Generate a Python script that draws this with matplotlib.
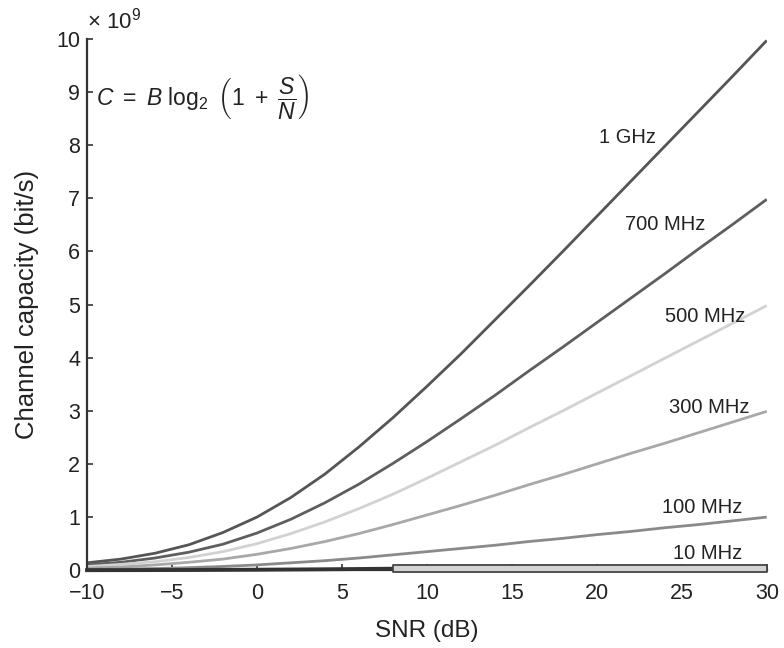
import numpy as np
import matplotlib
matplotlib.use("Agg")
import matplotlib.pyplot as plt

plt.rcParams['font.family'] = ['Liberation Sans', 'DejaVu Sans']
plt.rcParams['mathtext.fontset'] = 'custom'
plt.rcParams['mathtext.rm'] = 'Liberation Sans'
plt.rcParams['mathtext.it'] = 'Liberation Sans:italic'

# SNR in dB
snr = [-10, -8, -6, -4, -2, 0, 2, 4, 6, 8, 10, 12, 14, 16, 18, 20, 22, 24, 26, 28, 30]

# Channel capacity in units of 1e9 bit/s
cap_1ghz = [0.14, 0.21, 0.32, 0.48, 0.71, 1.00, 1.37, 1.81, 2.32, 2.87, 3.46,
            4.07, 4.71, 5.35, 6.00, 6.66, 7.32, 7.98, 8.64, 9.30, 9.97]
cap_700 = [0.10, 0.15, 0.23, 0.34, 0.49, 0.70, 0.96, 1.27, 1.62, 2.01, 2.42,
           2.85, 3.29, 3.75, 4.20, 4.66, 5.12, 5.58, 6.05, 6.51, 6.98]
cap_500 = [0.07, 0.11, 0.16, 0.24, 0.35, 0.50, 0.69, 0.91, 1.16, 1.43, 1.73,
           2.04, 2.35, 2.68, 3.00, 3.33, 3.66, 3.99, 4.32, 4.65, 4.98]
cap_300 = [0.04, 0.06, 0.10, 0.15, 0.21, 0.30, 0.41, 0.54, 0.69, 0.86, 1.04,
           1.22, 1.41, 1.61, 1.80, 2.00, 2.20, 2.39, 2.59, 2.79, 2.99]
cap_100 = [0.014, 0.021, 0.032, 0.048, 0.071, 0.10, 0.14, 0.18, 0.23, 0.29, 0.35,
           0.41, 0.47, 0.54, 0.60, 0.67, 0.73, 0.80, 0.86, 0.93, 1.00]
cap_10 = [0.0014, 0.0021, 0.0032, 0.0048, 0.0071, 0.010, 0.014, 0.018, 0.023, 0.029, 0.035,
          0.041, 0.047, 0.054, 0.060, 0.067, 0.073, 0.080, 0.086, 0.093, 0.100]

labels = ['1 GHz', '700 MHz', '500 MHz', '300 MHz', '100 MHz', '10 MHz']
label_pos = [(21.8, 8.14), (24.0, 6.5), (26.35, 4.78), (26.6, 3.07), (26.2, 1.19), (26.5, 0.32)]
colors = ['#555555', '#5e5e5e', '#d2d2d2', '#a8a8a8', '#8a8a8a', '#333333']

xticks = [-10, -5, 0, 5, 10, 15, 20, 25, 30]
yticks = [0, 1, 2, 3, 4, 5, 6, 7, 8, 9, 10]

fig = plt.figure(figsize=(7.84, 6.48), dpi=100)
ax = fig.add_axes([0.111, 0.120, 0.867, 0.820])

snr_a = np.array(snr)
series = [cap_1ghz, cap_700, cap_500, cap_300, cap_100]
for vals, col in zip(series, colors[:5]):
    ax.plot(snr_a, vals, color=col, lw=2.0, solid_capstyle='butt')

c10 = np.array(cap_10)
low = snr_a <= 8
ax.plot(snr_a[low], c10[low], color=colors[5], lw=2.8, clip_on=False)
high = snr_a >= 8
ax.fill_between(snr_a[high], -0.03, c10.max(), facecolor='#d4d4d4',
                edgecolor='#444444', lw=1.3, clip_on=False, zorder=3)

for lab, (lx, ly) in zip(labels, label_pos):
    ax.text(lx, ly, lab, ha='center', va='center', fontsize=14.5, color='#222222')

ax.text(-9.5, 8.9, r'$C\ =\ B\ \log_2\ \left(1\ +\ \dfrac{S}{N}\right)$', ha='left', va='center',
        fontsize=16.5, color='#222222')

ax.set_xlim(-10, 30)
ax.set_ylim(0, 10)
ax.set_xticks(xticks)
ax.set_yticks(yticks)
ax.set_xticklabels([('\u2212' + str(-t)) if t < 0 else str(t) for t in xticks])
ax.tick_params(direction='in', length=4, width=1.2, labelsize=15.5, colors='#333333',
               labelcolor='#222222')
ax.tick_params(axis='x', pad=9)
ax.tick_params(axis='y', pad=5)
for s in ['top', 'right']:
    ax.spines[s].set_visible(False)
for s in ['left', 'bottom']:
    ax.spines[s].set_linewidth(1.6)
    ax.spines[s].set_color('#333333')

ax.set_xlabel('SNR (dB)', fontsize=17.5, color='#222222', labelpad=12)
ax.set_ylabel('Channel capacity (bit/s)', fontsize=18.5, color='#222222', labelpad=12)
ax.text(0.0, 1.01, r'$\times\ 10^9$', transform=ax.transAxes, ha='left', va='bottom',
        fontsize=16, color='#222222')

fig.savefig('out.png', dpi=100)
